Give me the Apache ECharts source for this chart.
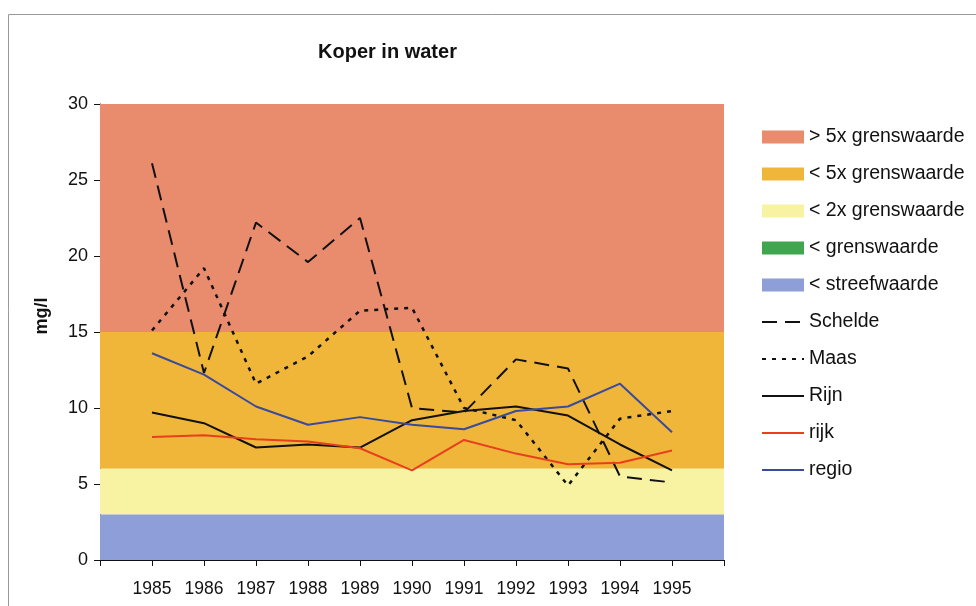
<!DOCTYPE html>
<html>
<head>
<meta charset="utf-8">
<script src="https://cdn.jsdelivr.net/npm/echarts@6/dist/echarts.min.js"></script>
<style>
  html, body { margin: 0; padding: 0; background: #fff; }
  #chart { width: 976px; height: 606px; }
</style>
</head>
<body>
<div id="chart"></div>
<script>
// jaren + meetwaarden (mg/l)
const years = [1985, 1986, 1987, 1988, 1989, 1990, 1991, 1992, 1993, 1994, 1995]
const schelde = [26.1, 12.3, 22.2, 19.6, 22.5, 10.0, 9.7, 13.2, 12.6, 5.5, 5.1]
const maas = [15.1, 19.2, 11.6, 13.4, 16.4, 16.6, 10.0, 9.2, 4.9, 9.3, 9.8]
const rijn = [9.7, 9.0, 7.4, 7.6, 7.4, 9.2, 9.8, 10.1, 9.5, 7.6, 5.9]
const rijk = [8.1, 8.2, 7.95, 7.8, 7.35, 5.9, 7.9, 7.0, 6.3, 6.4, 7.2]
const regio = [13.6, 12.2, 10.1, 8.9, 9.4, 8.9, 8.6, 9.8, 10.1, 11.6, 8.4]

// normbanden: naam, ondergrens, bovengrens
const bandNames = ['> 5x grenswaarde', '< 5x grenswaarde', '< 2x grenswaarde', '< grenswaarde', '< streefwaarde']
const bandFrom = [15, 6, 3, null, 0]
const bandTo = [30, 15, 6, null, 3]
const bandColors = ['#E98B6D', '#EFB63A', '#F8F3A2', '#3FA64F', '#8E9ED8']

const yTicks = [0, 5, 10, 15, 20, 25, 30]

const chart = echarts.init(document.getElementById('chart'))

const pairs = (arr) => arr.map((v, i) => [years[i], v])

const bandSeries = bandNames.map((name, i) => ({
  name,
  type: 'line',
  data: [],
  symbol: 'none',
  color: bandColors[i],
  lineStyle: { width: 0 },
  markArea: bandFrom[i] === null ? undefined : {
    silent: true,
    itemStyle: { color: bandColors[i], opacity: 1 },
    data: [[{ yAxis: bandFrom[i] }, { yAxis: bandTo[i] }]]
  },
  z: 1
}))

const lineSeries = [
  { name: 'Schelde', data: schelde, color: '#111', dash: [15, 8], width: 2 },
  { name: 'Maas', data: maas, color: '#111', dash: [4, 6], width: 2.5 },
  { name: 'Rijn', data: rijn, color: '#111', width: 2 },
  { name: 'rijk', data: rijk, color: '#E8401C', width: 2 },
  { name: 'regio', data: regio, color: '#3A4A9C', width: 2 }
].map(s => ({
  name: s.name,
  type: 'line',
  data: pairs(s.data),
  symbol: 'none',
  color: s.color,
  lineStyle: { color: s.color, width: s.width, type: s.dash || 'solid' },
  z: 5
}))

// banden als blokje, lijnen zonder bolletje
const legendData = bandNames.map(n => ({ name: n, icon: 'rect' }))
  .concat(lineSeries.map(s => ({ name: s.name, itemStyle: { opacity: 0 } })))

chart.setOption({
  backgroundColor: '#fff',
  animation: false,
  textStyle: { fontFamily: 'Liberation Sans, Arial, sans-serif' },
  title: {
    text: 'Koper in water',
    left: 313,
    top: 37,
    textStyle: { fontSize: 20, fontWeight: 'bold', color: '#111' }
  },
  graphic: [{
    type: 'rect',
    shape: { x: 8.5, y: 14.5, width: 980, height: 600 },
    style: { fill: 'none', stroke: '#999', lineWidth: 1 },
    silent: true
  }, {
    type: 'text',
    x: 42,
    y: 316,
    rotation: Math.PI / 2,
    style: {
      text: 'mg/l',
      font: 'bold 18px "Liberation Sans", Arial, sans-serif',
      fill: '#111',
      align: 'center',
      verticalAlign: 'middle'
    },
    silent: true
  }],
  legend: {
    orient: 'vertical',
    left: 756,
    top: 122,
    itemGap: 17,
    itemWidth: 42,
    itemHeight: 13,
    data: legendData,
    textStyle: { fontSize: 19.5, color: '#111' },
    selectedMode: false
  },
  grid: { left: 100, top: 104, width: 624, height: 456, containLabel: false },
  xAxis: {
    type: 'value',
    min: years[0] - 1,
    max: years[years.length - 1] + 1,
    interval: 1,
    axisLine: { lineStyle: { color: '#111' } },
    axisTick: { show: true, length: 6, lineStyle: { color: '#111' } },
    axisLabel: {
      fontSize: 17.5, color: '#111', margin: 20,
      formatter: v => years.includes(v) ? String(v) : ''
    },
    splitLine: { show: false }
  },
  yAxis: {
    type: 'value',
    min: yTicks[0],
    max: yTicks[yTicks.length - 1],
    interval: 5,
    axisLine: { show: true, lineStyle: { color: '#111' } },
    axisTick: { show: true, length: 6, lineStyle: { color: '#111' } },
    axisLabel: { fontSize: 18, color: '#111', margin: 12 },
    splitLine: { show: false }
  },
  series: bandSeries.concat(lineSeries)
})
</script>
</body>
</html>
